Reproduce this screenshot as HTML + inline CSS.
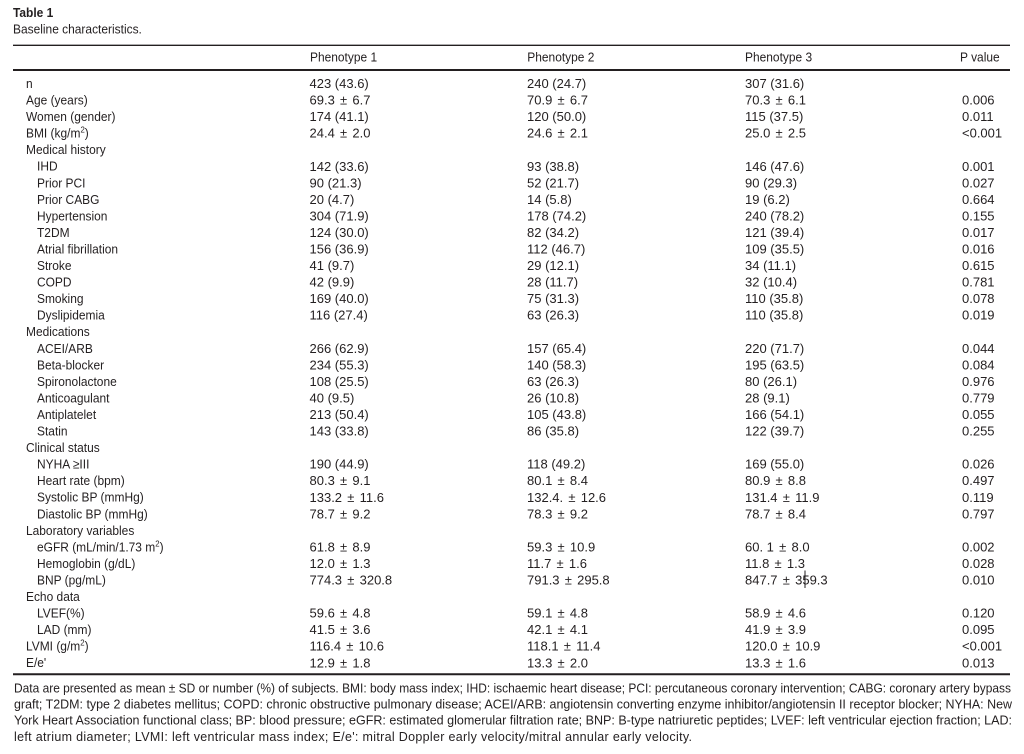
<!DOCTYPE html>
<html>
<head>
<meta charset="utf-8">
<style>
  html,body{margin:0;padding:0;background:#fff;}
  svg{display:block;}
  text{font-family:"Liberation Sans",sans-serif;fill:#231f20;}
  .l{font-size:13px;}
  .n{font-size:13px;}
  .f{font-size:12.5px;}
  .b{font-weight:bold;}
  .sup{font-size:8.5px;}
  .pm{letter-spacing:1.6px;}
</style>
</head>
<body>
<svg width="1024" height="754" viewBox="0 0 1024 754" xmlns="http://www.w3.org/2000/svg">
  <rect width="1024" height="754" fill="#fff"/>

  <!-- rules -->
  <line x1="13" y1="45.3" x2="1010" y2="45.3" stroke="#231f20" stroke-width="1.3"/>
  <line x1="13" y1="70" x2="1010" y2="70" stroke="#231f20" stroke-width="2"/>
  <line x1="13" y1="674.3" x2="1010" y2="674.3" stroke="#231f20" stroke-width="2"/>

  <!-- labels / titles (narrowed) -->
  <g transform="matrix(0.92 0 0 1 0 0)">
    <text class="l b" x="14.13" y="17">Table 1</text>
    <text class="l" x="14.13" y="33.5">Baseline characteristics.</text>

    <text class="l" x="336.96" y="61.5">Phenotype 1</text>
    <text class="l" x="573.15" y="61.5">Phenotype 2</text>
    <text class="l" x="809.78" y="61.5">Phenotype 3</text>
    <text class="l" x="1043.48" y="61.5">P value</text>

    <text class="l" x="28.26" y="88">n</text>
    <text class="l" x="28.26" y="104.55">Age (years)</text>
    <text class="l" x="28.26" y="121.1">Women (gender)</text>
    <text class="l" x="28.26" y="137.65">BMI (kg/m<tspan class="sup" dy="-5">2</tspan><tspan dy="5">)</tspan></text>
    <text class="l" x="28.26" y="154.2">Medical history</text>
    <text class="l" x="40.22" y="170.75">IHD</text>
    <text class="l" x="40.22" y="187.3">Prior PCI</text>
    <text class="l" x="40.22" y="203.85">Prior CABG</text>
    <text class="l" x="40.22" y="220.4">Hypertension</text>
    <text class="l" x="40.22" y="236.95">T2DM</text>
    <text class="l" x="40.22" y="253.5">Atrial fibrillation</text>
    <text class="l" x="40.22" y="270.05">Stroke</text>
    <text class="l" x="40.22" y="286.6">COPD</text>
    <text class="l" x="40.22" y="303.15">Smoking</text>
    <text class="l" x="40.22" y="319.7">Dyslipidemia</text>
    <text class="l" x="28.26" y="336.25">Medications</text>
    <text class="l" x="40.22" y="352.8">ACEI/ARB</text>
    <text class="l" x="40.22" y="369.35">Beta-blocker</text>
    <text class="l" x="40.22" y="385.9">Spironolactone</text>
    <text class="l" x="40.22" y="402.45">Anticoagulant</text>
    <text class="l" x="40.22" y="419">Antiplatelet</text>
    <text class="l" x="40.22" y="435.55">Statin</text>
    <text class="l" x="28.26" y="452.1">Clinical status</text>
    <text class="l" x="40.22" y="468.65">NYHA ≥III</text>
    <text class="l" x="40.22" y="485.2">Heart rate (bpm)</text>
    <text class="l" x="40.22" y="501.75">Systolic BP (mmHg)</text>
    <text class="l" x="40.22" y="518.3">Diastolic BP (mmHg)</text>
    <text class="l" x="28.26" y="534.85">Laboratory variables</text>
    <text class="l" x="40.22" y="551.4">eGFR (mL/min/1.73 m<tspan class="sup" dy="-5">2</tspan><tspan dy="5">)</tspan></text>
    <text class="l" x="40.22" y="567.95">Hemoglobin (g/dL)</text>
    <text class="l" x="40.22" y="584.5">BNP (pg/mL)</text>
    <text class="l" x="28.26" y="601.05">Echo data</text>
    <text class="l" x="40.22" y="617.6">LVEF(%)</text>
    <text class="l" x="40.22" y="634.15">LAD (mm)</text>
    <text class="l" x="28.26" y="650.7">LVMI (g/m<tspan class="sup" dy="-5">2</tspan><tspan dy="5">)</tspan></text>
    <text class="l" x="28.26" y="667.25">E/e'</text>
  </g>

  <!-- Phenotype 1 column -->
  <g>
    <text class="n" x="309.5" y="88">423 (43.6)</text>
    <text class="n" x="309.5" y="104.55">69.3 <tspan class="pm" dx="1.6">±</tspan> 6.7</text>
    <text class="n" x="309.5" y="121.1">174 (41.1)</text>
    <text class="n" x="309.5" y="137.65">24.4 <tspan class="pm" dx="1.6">±</tspan> 2.0</text>
    <text class="n" x="309.5" y="170.75">142 (33.6)</text>
    <text class="n" x="309.5" y="187.3">90 (21.3)</text>
    <text class="n" x="309.5" y="203.85">20 (4.7)</text>
    <text class="n" x="309.5" y="220.4">304 (71.9)</text>
    <text class="n" x="309.5" y="236.95">124 (30.0)</text>
    <text class="n" x="309.5" y="253.5">156 (36.9)</text>
    <text class="n" x="309.5" y="270.05">41 (9.7)</text>
    <text class="n" x="309.5" y="286.6">42 (9.9)</text>
    <text class="n" x="309.5" y="303.15">169 (40.0)</text>
    <text class="n" x="309.5" y="319.7">116 (27.4)</text>
    <text class="n" x="309.5" y="352.8">266 (62.9)</text>
    <text class="n" x="309.5" y="369.35">234 (55.3)</text>
    <text class="n" x="309.5" y="385.9">108 (25.5)</text>
    <text class="n" x="309.5" y="402.45">40 (9.5)</text>
    <text class="n" x="309.5" y="419">213 (50.4)</text>
    <text class="n" x="309.5" y="435.55">143 (33.8)</text>
    <text class="n" x="309.5" y="468.65">190 (44.9)</text>
    <text class="n" x="309.5" y="485.2">80.3 <tspan class="pm" dx="1.6">±</tspan> 9.1</text>
    <text class="n" x="309.5" y="501.75">133.2 <tspan class="pm" dx="1.6">±</tspan> 11.6</text>
    <text class="n" x="309.5" y="518.3">78.7 <tspan class="pm" dx="1.6">±</tspan> 9.2</text>
    <text class="n" x="309.5" y="551.4">61.8 <tspan class="pm" dx="1.6">±</tspan> 8.9</text>
    <text class="n" x="309.5" y="567.95">12.0 <tspan class="pm" dx="1.6">±</tspan> 1.3</text>
    <text class="n" x="309.5" y="584.5">774.3 <tspan class="pm" dx="1.6">±</tspan> 320.8</text>
    <text class="n" x="309.5" y="617.6">59.6 <tspan class="pm" dx="1.6">±</tspan> 4.8</text>
    <text class="n" x="309.5" y="634.15">41.5 <tspan class="pm" dx="1.6">±</tspan> 3.6</text>
    <text class="n" x="309.5" y="650.7">116.4 <tspan class="pm" dx="1.6">±</tspan> 10.6</text>
    <text class="n" x="309.5" y="667.25">12.9 <tspan class="pm" dx="1.6">±</tspan> 1.8</text>
  </g>

  <!-- Phenotype 2 column -->
  <g>
    <text class="n" x="527" y="88">240 (24.7)</text>
    <text class="n" x="527" y="104.55">70.9 <tspan class="pm" dx="1.6">±</tspan> 6.7</text>
    <text class="n" x="527" y="121.1">120 (50.0)</text>
    <text class="n" x="527" y="137.65">24.6 <tspan class="pm" dx="1.6">±</tspan> 2.1</text>
    <text class="n" x="527" y="170.75">93 (38.8)</text>
    <text class="n" x="527" y="187.3">52 (21.7)</text>
    <text class="n" x="527" y="203.85">14 (5.8)</text>
    <text class="n" x="527" y="220.4">178 (74.2)</text>
    <text class="n" x="527" y="236.95">82 (34.2)</text>
    <text class="n" x="527" y="253.5">112 (46.7)</text>
    <text class="n" x="527" y="270.05">29 (12.1)</text>
    <text class="n" x="527" y="286.6">28 (11.7)</text>
    <text class="n" x="527" y="303.15">75 (31.3)</text>
    <text class="n" x="527" y="319.7">63 (26.3)</text>
    <text class="n" x="527" y="352.8">157 (65.4)</text>
    <text class="n" x="527" y="369.35">140 (58.3)</text>
    <text class="n" x="527" y="385.9">63 (26.3)</text>
    <text class="n" x="527" y="402.45">26 (10.8)</text>
    <text class="n" x="527" y="419">105 (43.8)</text>
    <text class="n" x="527" y="435.55">86 (35.8)</text>
    <text class="n" x="527" y="468.65">118 (49.2)</text>
    <text class="n" x="527" y="485.2">80.1 <tspan class="pm" dx="1.6">±</tspan> 8.4</text>
    <text class="n" x="527" y="501.75">132.4. <tspan class="pm" dx="1.6">±</tspan> 12.6</text>
    <text class="n" x="527" y="518.3">78.3 <tspan class="pm" dx="1.6">±</tspan> 9.2</text>
    <text class="n" x="527" y="551.4">59.3 <tspan class="pm" dx="1.6">±</tspan> 10.9</text>
    <text class="n" x="527" y="567.95">11.7 <tspan class="pm" dx="1.6">±</tspan> 1.6</text>
    <text class="n" x="527" y="584.5">791.3 <tspan class="pm" dx="1.6">±</tspan> 295.8</text>
    <text class="n" x="527" y="617.6">59.1 <tspan class="pm" dx="1.6">±</tspan> 4.8</text>
    <text class="n" x="527" y="634.15">42.1 <tspan class="pm" dx="1.6">±</tspan> 4.1</text>
    <text class="n" x="527" y="650.7">118.1 <tspan class="pm" dx="1.6">±</tspan> 11.4</text>
    <text class="n" x="527" y="667.25">13.3 <tspan class="pm" dx="1.6">±</tspan> 2.0</text>
  </g>

  <!-- Phenotype 3 column -->
  <g>
    <text class="n" x="745" y="88">307 (31.6)</text>
    <text class="n" x="745" y="104.55">70.3 <tspan class="pm" dx="1.6">±</tspan> 6.1</text>
    <text class="n" x="745" y="121.1">115 (37.5)</text>
    <text class="n" x="745" y="137.65">25.0 <tspan class="pm" dx="1.6">±</tspan> 2.5</text>
    <text class="n" x="745" y="170.75">146 (47.6)</text>
    <text class="n" x="745" y="187.3">90 (29.3)</text>
    <text class="n" x="745" y="203.85">19 (6.2)</text>
    <text class="n" x="745" y="220.4">240 (78.2)</text>
    <text class="n" x="745" y="236.95">121 (39.4)</text>
    <text class="n" x="745" y="253.5">109 (35.5)</text>
    <text class="n" x="745" y="270.05">34 (11.1)</text>
    <text class="n" x="745" y="286.6">32 (10.4)</text>
    <text class="n" x="745" y="303.15">110 (35.8)</text>
    <text class="n" x="745" y="319.7">110 (35.8)</text>
    <text class="n" x="745" y="352.8">220 (71.7)</text>
    <text class="n" x="745" y="369.35">195 (63.5)</text>
    <text class="n" x="745" y="385.9">80 (26.1)</text>
    <text class="n" x="745" y="402.45">28 (9.1)</text>
    <text class="n" x="745" y="419">166 (54.1)</text>
    <text class="n" x="745" y="435.55">122 (39.7)</text>
    <text class="n" x="745" y="468.65">169 (55.0)</text>
    <text class="n" x="745" y="485.2">80.9 <tspan class="pm" dx="1.6">±</tspan> 8.8</text>
    <text class="n" x="745" y="501.75">131.4 <tspan class="pm" dx="1.6">±</tspan> 11.9</text>
    <text class="n" x="745" y="518.3">78.7 <tspan class="pm" dx="1.6">±</tspan> 8.4</text>
    <text class="n" x="745" y="551.4">60. 1 <tspan class="pm" dx="1.6">±</tspan> 8.0</text>
    <text class="n" x="745" y="567.95">11.8 <tspan class="pm" dx="1.6">±</tspan> 1.3</text>
    <text class="n" x="745" y="584.5">847.7 <tspan class="pm" dx="1.6">±</tspan> 359.3</text>
    <text class="n" x="745" y="617.6">58.9 <tspan class="pm" dx="1.6">±</tspan> 4.6</text>
    <text class="n" x="745" y="634.15">41.9 <tspan class="pm" dx="1.6">±</tspan> 3.9</text>
    <text class="n" x="745" y="650.7">120.0 <tspan class="pm" dx="1.6">±</tspan> 10.9</text>
    <text class="n" x="745" y="667.25">13.3 <tspan class="pm" dx="1.6">±</tspan> 1.6</text>
  </g>
  <line x1="805" y1="570.5" x2="805" y2="588" stroke="#231f20" stroke-width="1"/>

  <!-- P values -->
  <g>
    <text class="n" x="962" y="104.55">0.006</text>
    <text class="n" x="962" y="121.1">0.011</text>
    <text class="n" x="962" y="137.65">&lt;0.001</text>
    <text class="n" x="962" y="170.75">0.001</text>
    <text class="n" x="962" y="187.3">0.027</text>
    <text class="n" x="962" y="203.85">0.664</text>
    <text class="n" x="962" y="220.4">0.155</text>
    <text class="n" x="962" y="236.95">0.017</text>
    <text class="n" x="962" y="253.5">0.016</text>
    <text class="n" x="962" y="270.05">0.615</text>
    <text class="n" x="962" y="286.6">0.781</text>
    <text class="n" x="962" y="303.15">0.078</text>
    <text class="n" x="962" y="319.7">0.019</text>
    <text class="n" x="962" y="352.8">0.044</text>
    <text class="n" x="962" y="369.35">0.084</text>
    <text class="n" x="962" y="385.9">0.976</text>
    <text class="n" x="962" y="402.45">0.779</text>
    <text class="n" x="962" y="419">0.055</text>
    <text class="n" x="962" y="435.55">0.255</text>
    <text class="n" x="962" y="468.65">0.026</text>
    <text class="n" x="962" y="485.2">0.497</text>
    <text class="n" x="962" y="501.75">0.119</text>
    <text class="n" x="962" y="518.3">0.797</text>
    <text class="n" x="962" y="551.4">0.002</text>
    <text class="n" x="962" y="567.95">0.028</text>
    <text class="n" x="962" y="584.5">0.010</text>
    <text class="n" x="962" y="617.6">0.120</text>
    <text class="n" x="962" y="634.15">0.095</text>
    <text class="n" x="962" y="650.7">&lt;0.001</text>
    <text class="n" x="962" y="667.25">0.013</text>
  </g>

  <!-- footnote -->
  <text class="f" x="14" y="692.5" textLength="997" lengthAdjust="spacingAndGlyphs">Data are presented as mean ± SD or number (%) of subjects. BMI: body mass index; IHD: ischaemic heart disease; PCI: percutaneous coronary intervention; CABG: coronary artery bypass</text>
  <text class="f" x="14" y="708.6" textLength="998" lengthAdjust="spacingAndGlyphs">graft; T2DM: type 2 diabetes mellitus; COPD: chronic obstructive pulmonary disease; ACEI/ARB: angiotensin converting enzyme inhibitor/angiotensin II receptor blocker; NYHA: New</text>
  <text class="f" x="14" y="724.7" textLength="998" lengthAdjust="spacingAndGlyphs">York Heart Association functional class; BP: blood pressure; eGFR: estimated glomerular filtration rate; BNP: B-type natriuretic peptides; LVEF: left ventricular ejection fraction; LAD:</text>
  <text class="f" x="14" y="740.8" textLength="678" lengthAdjust="spacing">left atrium diameter; LVMI: left ventricular mass index; E/e': mitral Doppler early velocity/mitral annular early velocity.</text>
</svg>
</body>
</html>
